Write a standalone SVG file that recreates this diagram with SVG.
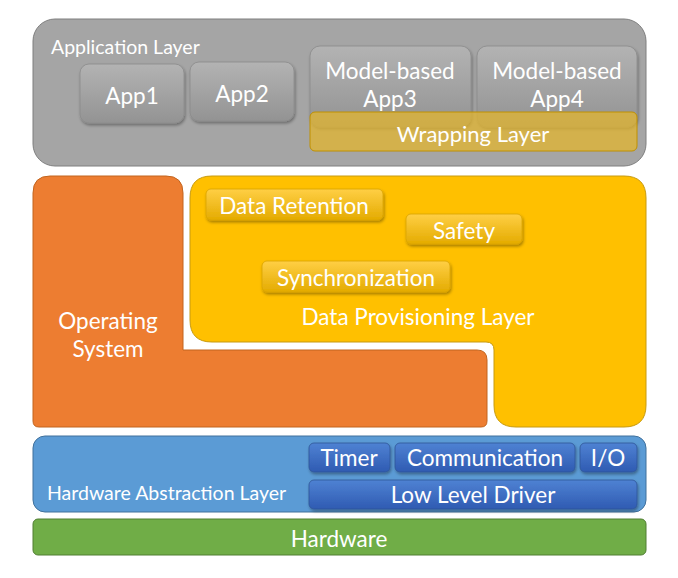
<svg xmlns="http://www.w3.org/2000/svg" width="678" height="578" viewBox="0 0 678 578">
<defs>
<linearGradient id="gGray" x1="0" y1="0" x2="0" y2="1"><stop offset="0" stop-color="#b3b3b3"/><stop offset="1" stop-color="#939393"/></linearGradient>
<linearGradient id="gYel" x1="0" y1="0" x2="0" y2="1"><stop offset="0" stop-color="#ffcf45"/><stop offset="1" stop-color="#e4ab00"/></linearGradient>
<linearGradient id="gBlue" x1="0" y1="0" x2="0" y2="1"><stop offset="0" stop-color="#4f82d3"/><stop offset="1" stop-color="#2f5bb2"/></linearGradient>
<filter id="sh" x="-10%" y="-20%" width="130%" height="150%">
<feDropShadow dx="1" dy="2" stdDeviation="1.5" flood-color="#000" flood-opacity="0.35"/>
</filter>
</defs>
<style>
text{font-family:Lato,"Open Sans","Liberation Sans",sans-serif;fill:#fff;text-anchor:middle;dominant-baseline:central}
.big{font-size:22.5px}
.sm{font-size:19.5px}
.app{fill:url(#gGray);stroke:#8c8c8c;stroke-width:0.8;filter:url(#sh)}
.yb{fill:url(#gYel);stroke:#d9a300;stroke-width:0.8;filter:url(#sh)}
.bb{fill:url(#gBlue);stroke:#2f5597;stroke-width:0.8;filter:url(#sh)}
</style>
<g id="application-layer">
<rect x="33" y="19" width="613" height="147" rx="22" fill="#a5a5a5" stroke="#7f7f7f" stroke-width="1"/>
<text x="51" y="46" class="sm" style="text-anchor:start">Application Layer</text>
</g>
<g id="app1"><rect class="app" x="80" y="64" width="104" height="59" rx="9"/><text x="132" y="95" class="big">App1</text></g>
<g id="app2"><rect class="app" x="190" y="62" width="104" height="59" rx="9"/><text x="242" y="93" class="big">App2</text></g>
<g id="app3"><rect class="app" x="310" y="46" width="161" height="81" rx="10"/><text x="390" y="70" class="big">Model-based</text><text x="390" y="98" class="big">App3</text></g>
<g id="app4"><rect class="app" x="477" y="46" width="160" height="81" rx="10"/><text x="557" y="70" class="big">Model-based</text><text x="557" y="98" class="big">App4</text></g>
<g id="wrapping-layer"><rect x="310" y="112" width="327" height="39" rx="5" fill="#e3b52f" fill-opacity="0.75" stroke="#bf9000" stroke-width="1"/><text x="473" y="133" class="big" style="font-size:22px">Wrapping Layer</text></g>
<g id="operating-system">
<path d="M50,176 H166 Q183,176 183,193 V350 H477 Q487,350 487,360 V421 Q487,427 481,427 H39 Q33,427 33,421 V193 Q33,176 50,176 Z" fill="#ed7d31" stroke="#c2651f" stroke-width="1"/>
<text x="108" y="320" class="big">Operating</text><text x="108" y="348" class="big">System</text>
</g>
<g id="data-provisioning-layer">
<path d="M212,176 H624 Q646,176 646,198 V405 Q646,427 624,427 H516 Q494,427 494,405 V350 Q494,342 486,342 H212 Q190,342 190,320 V198 Q190,176 212,176 Z" fill="#ffc000" stroke="#c79a10" stroke-width="1"/>
<text x="418" y="316" class="big">Data Provisioning Layer</text>
</g>
<g id="data-retention"><rect class="yb" x="206" y="189" width="177" height="31" rx="5"/><text x="294" y="205" class="big">Data Retention</text></g>
<g id="safety"><rect class="yb" x="406" y="214" width="116" height="30" rx="5"/><text x="464" y="230" class="big">Safety</text></g>
<g id="synchronization"><rect class="yb" x="262" y="261" width="188" height="31" rx="5"/><text x="356" y="277" class="big">Synchronization</text></g>
<g id="hardware-abstraction-layer">
<rect x="33" y="436" width="613" height="76" rx="12" fill="#5b9bd5" stroke="#41719c" stroke-width="1"/>
<text x="47" y="492" class="sm" style="text-anchor:start">Hardware Abstraction Layer</text>
</g>
<g id="timer"><rect class="bb" x="309" y="443" width="81" height="29" rx="5"/><text x="349" y="457" class="big">Timer</text></g>
<g id="communication"><rect class="bb" x="395" y="443" width="180" height="29" rx="5"/><text x="485" y="457" class="big">Communication</text></g>
<g id="io"><rect class="bb" x="580" y="443" width="57" height="29" rx="5"/><text x="608" y="457" class="big">I/O</text></g>
<g id="low-level-driver"><rect class="bb" x="309" y="480" width="328" height="29" rx="5"/><text x="473" y="494" class="big">Low Level Driver</text></g>
<g id="hardware"><rect x="33" y="519" width="613" height="36" rx="5" fill="#70ad47" stroke="#507e32" stroke-width="1"/><text x="339" y="538" class="big">Hardware</text></g>
<g id="connectors"/>
</svg>
